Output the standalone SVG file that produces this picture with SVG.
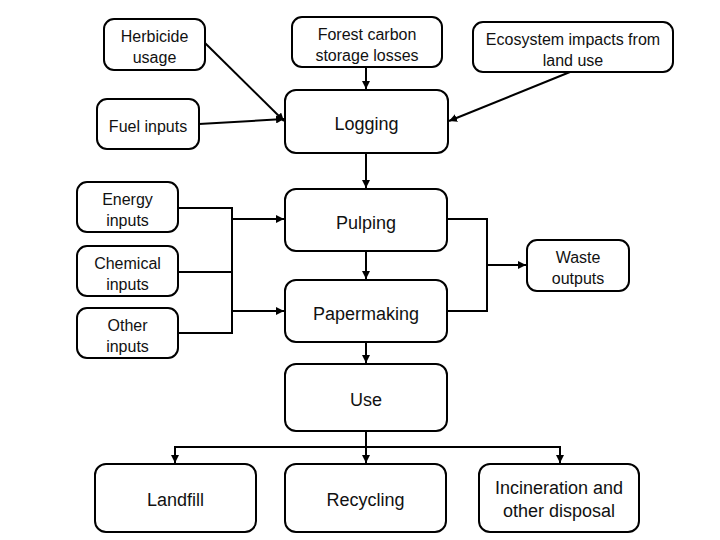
<svg xmlns="http://www.w3.org/2000/svg" width="720" height="540" viewBox="0 0 720 540">
<defs>
<style>
.box{fill:#fff;stroke:#000;stroke-width:2}
.t{font-family:"Liberation Sans",Arial,sans-serif;font-size:16px;fill:#111;text-anchor:middle}
.tb{font-family:"Liberation Sans",Arial,sans-serif;font-size:18px;fill:#111;text-anchor:middle}
.c{fill:none;stroke:#000;stroke-width:2}
</style>
<marker id="ah" viewBox="0 0 10 10" refX="10" refY="5" markerWidth="4" markerHeight="4" orient="auto" markerUnits="strokeWidth">
<path d="M0,0 L10,5 L0,10 z" fill="#000"/>
</marker>
</defs>
<rect width="720" height="540" fill="#fff"/>
<g id="connectors">
<path class="c" d="M366,67 V89" marker-end="url(#ah)"/>
<path class="c" d="M205,43 L284,121" marker-end="url(#ah)"/>
<path class="c" d="M199,124 L284,119" marker-end="url(#ah)"/>
<path class="c" d="M570,72 L449,121" marker-end="url(#ah)"/>
<path class="c" d="M366,153 V188" marker-end="url(#ah)"/>
<path class="c" d="M178,208 H232 M178,272 H232 M178,333 H232 M232,207 V334"/>
<path class="c" d="M232,219 H284" marker-end="url(#ah)"/>
<path class="c" d="M232,311 H284" marker-end="url(#ah)"/>
<path class="c" d="M366,251 V279" marker-end="url(#ah)"/>
<path class="c" d="M366,342 V363" marker-end="url(#ah)"/>
<path class="c" d="M447,219 H487 V311 H447"/>
<path class="c" d="M487,265 H526" marker-end="url(#ah)"/>
<path class="c" d="M366,431 V463" marker-end="url(#ah)"/>
<path class="c" d="M175,463 V447 H560 V463" marker-end="url(#ah)"/>
<path class="c" d="M175,447 V463" marker-end="url(#ah)"/>
</g>
<g id="herbicide"><rect class="box" x="104" y="19" width="101" height="51" rx="10"/><text class="t" x="154.5" y="42">Herbicide</text><text class="t" x="154.5" y="63">usage</text></g>
<g id="forest"><rect class="box" x="292" y="17" width="150" height="50" rx="10"/><text class="t" x="367" y="40">Forest carbon</text><text class="t" x="367" y="61">storage losses</text></g>
<g id="ecosystem"><rect class="box" x="473" y="22" width="200" height="50" rx="10"/><text class="t" x="573" y="45">Ecosystem impacts from</text><text class="t" x="573" y="66">land use</text></g>
<g id="fuel"><rect class="box" x="97" y="99" width="102" height="50" rx="10"/><text class="t" x="148" y="132">Fuel inputs</text></g>
<g id="logging"><rect class="box" x="285" y="90" width="163" height="63" rx="11"/><text class="tb" x="366.5" y="130">Logging</text></g>
<g id="energy"><rect class="box" x="77" y="182" width="101" height="50" rx="10"/><text class="t" x="127.5" y="205">Energy</text><text class="t" x="127.5" y="226">inputs</text></g>
<g id="chemical"><rect class="box" x="77" y="246" width="101" height="50" rx="10"/><text class="t" x="127.5" y="269">Chemical</text><text class="t" x="127.5" y="290">inputs</text></g>
<g id="other"><rect class="box" x="77" y="308" width="101" height="50" rx="10"/><text class="t" x="127.5" y="331">Other</text><text class="t" x="127.5" y="352">inputs</text></g>
<g id="pulping"><rect class="box" x="285" y="189" width="162" height="62" rx="11"/><text class="tb" x="366" y="228.5">Pulping</text></g>
<g id="papermaking"><rect class="box" x="285" y="280" width="162" height="62" rx="11"/><text class="tb" x="366" y="319.5">Papermaking</text></g>
<g id="waste"><rect class="box" x="527" y="240" width="102" height="51" rx="10"/><text class="t" x="578" y="263">Waste</text><text class="t" x="578" y="284">outputs</text></g>
<g id="use"><rect class="box" x="285" y="364" width="162" height="67" rx="11"/><text class="tb" x="366" y="406">Use</text></g>
<g id="landfill"><rect class="box" x="95" y="464" width="161" height="68" rx="11"/><text class="tb" x="175.5" y="506">Landfill</text></g>
<g id="recycling"><rect class="box" x="285" y="464" width="161" height="68" rx="11"/><text class="tb" x="365.5" y="506">Recycling</text></g>
<g id="incineration"><rect class="box" x="479" y="464" width="160" height="68" rx="11"/><text class="tb" x="559" y="494">Incineration and</text><text class="tb" x="559" y="517">other disposal</text></g>
</svg>
